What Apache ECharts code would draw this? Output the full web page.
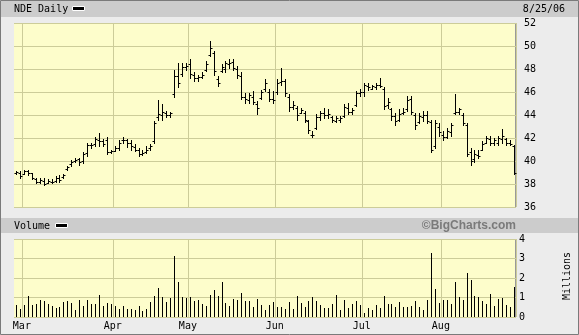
<!DOCTYPE html>
<html><head><meta charset="utf-8">
<script src="https://cdn.jsdelivr.net/npm/echarts@6/dist/echarts.min.js"></script>
<style>html,body{margin:0;padding:0;background:#ececec}#c{width:579px;height:335px}</style>
</head><body><div id="c"></div>
<script>
// ---- data ----
const dates = [
'2/27','2/28',
'3/1','3/2','3/3','3/6','3/7','3/8','3/9','3/10','3/13','3/14','3/15','3/16','3/17','3/20','3/21','3/22','3/23','3/24','3/27','3/28','3/29','3/30','3/31',
'4/3','4/4','4/5','4/6','4/7','4/10','4/11','4/12','4/13','4/17','4/18','4/19','4/20','4/21','4/24','4/25','4/26','4/27','4/28',
'5/1','5/2','5/3','5/4','5/5','5/8','5/9','5/10','5/11','5/12','5/15','5/16','5/17','5/18','5/19','5/22','5/23','5/24','5/25','5/26','5/30','5/31',
'6/1','6/2','6/5','6/6','6/7','6/8','6/9','6/12','6/13','6/14','6/15','6/16','6/19','6/20','6/21','6/22','6/23','6/26','6/27','6/28','6/29','6/30',
'7/3','7/5','7/6','7/7','7/10','7/11','7/12','7/13','7/14','7/17','7/18','7/19','7/20','7/21','7/24','7/25','7/26','7/27','7/28','7/31',
'8/1','8/2','8/3','8/4','8/7','8/8','8/9','8/10','8/11','8/14','8/15','8/16','8/17','8/18','8/21','8/22','8/23','8/24','8/25'
];
const opens = [38.95,39.0,38.9,39.1,38.95,38.4,38.2,38.3,38.1,38.2,38.3,38.5,38.6,39.3,39.7,40.0,40.2,40.0,40.7,41.4,41.5,41.8,41.7,41.8,40.8,
40.9,41.1,41.8,41.8,41.6,41.2,41.0,40.6,40.8,41.1,41.7,43.8,44.0,44.2,44.0,45.8,47.4,47.6,48.2,
48.4,47.5,47.2,47.3,47.9,49.2,49.4,47.1,47.8,48.0,48.4,48.6,48.0,47.4,45.6,45.3,45.6,45.0,45.5,46.3,46.0,45.4,
46.0,46.9,47.0,45.6,44.7,44.6,44.2,44.2,43.5,42.3,42.9,43.8,44.2,44.0,43.8,43.5,43.6,43.9,44.6,44.3,44.9,45.9,
46.0,46.5,46.3,46.4,46.6,46.3,44.9,44.5,43.9,43.6,44.2,44.5,45.4,44.0,43.4,43.8,44.0,43.4,41.3,43.0,
42.3,42.1,42.5,44.2,44.3,44.0,43.1,40.8,40.2,40.5,41.0,41.6,41.9,41.6,41.6,41.9,41.9,41.6,41.3];
const highs = [39.15,39.1,39.25,39.25,39.0,38.5,38.55,38.55,38.4,38.45,38.7,38.8,38.9,39.6,40.05,40.25,40.3,40.8,41.6,41.6,42.05,42.45,41.95,42.05,41.0,
41.3,41.8,42.05,41.95,41.85,41.45,41.15,40.95,41.3,41.45,43.5,45.3,44.95,44.35,44.3,47.9,48.55,48.55,48.55,
48.85,47.7,47.5,47.7,48.7,50.45,49.6,47.4,48.4,48.7,48.85,48.85,48.25,47.7,45.95,45.95,46.1,45.2,46.2,47.1,46.25,46.1,
47.1,48.05,47.1,45.8,45.2,44.8,44.65,44.35,43.6,42.6,44.05,44.35,44.65,44.5,43.9,43.9,43.9,45.0,45.05,44.65,46.1,46.25,
46.8,46.8,46.65,46.8,47.25,46.4,45.5,44.65,44.2,44.5,44.65,45.65,45.65,44.2,44.2,44.35,44.35,43.6,43.6,43.3,
42.6,42.85,43.3,45.8,44.65,44.2,43.3,41.1,40.95,40.95,41.7,42.15,42.15,42.0,42.15,42.75,42.0,41.85,41.4];
const lows = [38.85,38.5,38.85,38.8,38.4,38.1,38.05,37.9,38.05,38.05,38.2,38.2,38.55,39.25,39.6,39.9,39.65,39.85,40.45,41.15,41.3,41.3,41.3,40.65,40.7,
40.85,41.0,41.6,41.2,41.0,40.85,40.45,40.5,40.7,41.0,41.6,43.6,43.55,43.85,43.85,45.6,46.4,47.4,47.95,
47.25,46.95,47.0,47.2,47.8,49.1,47.5,46.5,47.7,47.7,48.1,47.95,47.25,45.35,45.05,45.05,44.95,44.05,45.35,46.1,45.2,45.05,
45.8,46.65,45.65,44.35,44.5,43.6,44.2,43.35,42.45,42.1,42.75,43.6,43.75,43.75,43.35,43.35,43.4,43.8,44.05,44.05,44.8,45.65,
45.65,46.2,46.25,46.25,46.4,44.5,44.65,43.6,43.15,43.45,44.05,44.35,44.05,42.75,43.3,43.45,43.3,40.8,41.1,42.15,
41.85,42.0,42.15,44.05,44.05,43.15,40.4,39.65,39.95,40.25,40.95,41.55,41.4,41.4,41.4,41.55,41.4,41.4,38.9];
const closes = [39.05,38.7,39.15,39.0,38.5,38.2,38.35,38.0,38.25,38.2,38.55,38.35,38.8,39.5,39.95,40.1,39.9,40.65,41.4,41.35,41.9,41.7,41.5,40.8,40.9,
41.1,41.6,41.85,41.6,41.3,41.0,40.6,40.7,41.0,41.3,43.3,44.1,44.3,44.0,44.2,47.4,46.8,48.2,48.3,
47.6,47.2,47.3,47.5,48.4,49.8,47.8,46.8,48.2,48.5,48.5,48.1,47.5,45.6,45.4,45.7,45.1,44.6,46.0,46.8,45.4,45.3,
46.8,47.0,45.9,44.7,44.9,44.0,44.4,43.6,42.7,42.3,43.8,44.2,44.0,44.1,43.6,43.7,43.7,44.7,44.3,44.4,45.9,46.0,
46.6,46.4,46.5,46.6,46.5,44.8,45.1,43.9,43.5,44.1,44.3,45.3,44.3,43.1,43.9,44.0,43.5,41.0,43.3,42.5,
42.1,42.6,43.1,44.3,44.5,43.3,40.6,40.0,40.6,40.4,41.5,42.0,41.6,41.8,42.0,42.2,41.6,41.5,39.0];
const volumes = [0.61,0.40,0.61,1.08,0.61,0.66,0.87,0.83,0.66,0.56,0.47,0.50,0.77,0.82,0.71,0.37,0.87,0.56,0.87,0.66,0.66,1.13,0.56,0.71,0.66,
0.56,0.40,0.56,0.40,0.40,0.37,0.56,0.30,0.40,0.77,1.08,1.50,1.03,0.77,0.97,3.11,1.81,1.03,0.97,
1.03,0.82,0.87,0.66,0.56,1.13,1.39,1.08,1.81,0.71,0.56,0.92,0.87,1.23,0.82,0.82,0.50,0.92,0.61,0.37,0.61,0.77,
0.50,0.50,0.40,0.77,0.40,1.07,0.71,0.50,0.81,1.02,0.81,0.60,0.45,0.45,0.66,1.12,0.34,0.86,0.45,0.66,0.81,0.60,
0.19,0.45,0.34,0.60,0.45,1.07,0.66,0.66,0.50,0.76,0.50,0.50,0.55,0.81,0.50,0.34,0.86,3.29,1.43,0.71,
0.86,0.86,0.66,1.79,1.02,0.86,2.26,1.90,1.07,1.02,0.81,0.66,1.17,0.55,0.91,0.97,0.60,0.50,1.53];
const monthNames = ['Jan','Feb','Mar','Apr','May','Jun','Jul','Aug','Sep','Oct','Nov','Dec'];
const priceMin = 36, priceMax = 52, priceStep = 2;
const volMin = 0, volMax = 4, volStep = 1;
const titleText = 'NDE Daily';
const dateText = '8/25/06';

// ---- chart ----
const GRIDC = '#cccc99';
const BG = '#fdfdcb';
const FONT = '"DejaVu Sans Mono", monospace';
const monthOf = d => +d.split('/')[0];
const isMonthStart = i => i > 0 && monthOf(dates[i]) !== monthOf(dates[i-1]);

const ohlcData = dates.map((d, i) => [i, opens[i], highs[i], lows[i], closes[i]]);
const volData = dates.map((d, i) => [i, volumes[i]]);

function renderOHLC(params, api) {
  const i = api.value(0);
  const pO = api.coord([i, api.value(1)]);
  const pH = api.coord([i, api.value(2)]);
  const pL = api.coord([i, api.value(3)]);
  const pC = api.coord([i, api.value(4)]);
  const x = Math.round(pH[0]) + 0.5;
  const st = {stroke: '#000', lineWidth: 1};
  const yo = Math.round(pO[1]) + 0.5, yc = Math.round(pC[1]) + 0.5;
  return {type: 'group', children: [
    {type: 'line', shape: {x1: x, y1: Math.round(pH[1]), x2: x, y2: Math.round(pL[1]) + 1}, style: st},
    {type: 'line', shape: {x1: x - 2, y1: yo, x2: x, y2: yo}, style: st},
    {type: 'line', shape: {x1: x, y1: yc, x2: x + 2, y2: yc}, style: st}
  ]};
}
function renderVol(params, api) {
  const i = api.value(0);
  const p0 = api.coord([i, 0]);
  const p1 = api.coord([i, api.value(1)]);
  const x = Math.round(p0[0]) + 0.5;
  return {type: 'line', shape: {x1: x, y1: Math.round(p0[1]), x2: x, y2: Math.round(p1[1])},
    style: {stroke: '#000', lineWidth: 1}};
}

const chart = echarts.init(document.getElementById('c'));
const xBase = {
  type: 'category', data: dates, boundaryGap: true,
  axisLine: {show: false}, axisTick: {show: false},
  splitLine: {show: true, interval: (i) => isMonthStart(i), lineStyle: {color: GRIDC, width: 1}}
};
chart.setOption({
  animation: false,
  backgroundColor: '#ececec',
  grid: [
    {left: 14, right: 63, top: 23, height: 184, show: true, backgroundColor: BG, borderWidth: 0},
    {left: 14, right: 63, top: 239, height: 78, show: true, backgroundColor: BG, borderWidth: 0}
  ],
  xAxis: [
    Object.assign({}, xBase, {gridIndex: 0, axisLabel: {show: false}}),
    Object.assign({}, xBase, {gridIndex: 1, axisLabel: {
      show: true, interval: (i) => isMonthStart(i), margin: 4, color: '#000',
      fontFamily: FONT, fontSize: 10, padding: [0, 4, 0, 0],
      formatter: v => monthNames[monthOf(v) - 1]
    }})
  ],
  yAxis: [
    {type: 'value', gridIndex: 0, position: 'right', min: priceMin, max: priceMax, interval: priceStep,
     axisLine: {show: false}, axisTick: {show: false},
     axisLabel: {margin: 8, color: '#000', fontFamily: FONT, fontSize: 10},
     splitLine: {lineStyle: {color: GRIDC, width: 1}}},
    {type: 'value', gridIndex: 1, position: 'right', min: volMin, max: volMax, interval: volStep,
     axisLine: {show: false}, axisTick: {show: false},
     axisLabel: {margin: 3, color: '#000', fontFamily: FONT, fontSize: 10},
     splitLine: {lineStyle: {color: GRIDC, width: 1}}}
  ],
  series: [
    {type: 'custom', xAxisIndex: 0, yAxisIndex: 0, renderItem: renderOHLC, data: ohlcData,
     encode: {x: 0, y: [1, 2, 3, 4]}, clip: false},
    {type: 'custom', xAxisIndex: 1, yAxisIndex: 1, renderItem: renderVol, data: volData,
     encode: {x: 0, y: 1}}
  ],
  graphic: [
    {type: 'rect', z: -1, shape: {x: 1, y: 1, width: 577, height: 16}, style: {fill: '#cccccc'}},
    {type: 'rect', z: -1, shape: {x: 1, y: 218, width: 577, height: 15}, style: {fill: '#cccccc'}},
    {type: 'text', x: 14, y: 9, style: {text: titleText, fill: '#000', font: '10px ' + FONT, textVerticalAlign: 'middle'}},
    {type: 'rect', shape: {x: 72.5, y: 6.5, width: 12, height: 4}, style: {fill: '#000', stroke: '#fff', lineWidth: 1}},
    {type: 'text', x: 565, y: 9, style: {text: dateText, fill: '#000', font: '10px ' + FONT, textAlign: 'right', textVerticalAlign: 'middle'}},
    {type: 'text', x: 14, y: 226, style: {text: 'Volume', fill: '#000', font: '10px ' + FONT, textVerticalAlign: 'middle'}},
    {type: 'rect', shape: {x: 55.5, y: 223.5, width: 12, height: 4}, style: {fill: '#000', stroke: '#fff', lineWidth: 1}},
    {type: 'text', x: 516, y: 226, style: {text: '\u00a9BigCharts.com', fill: '#7a7a7a', font: 'bold 12px "Liberation Sans", Arial, sans-serif', textAlign: 'right', textVerticalAlign: 'middle'}},
    {type: 'text', x: 567, y: 276, rotation: Math.PI / 2, style: {text: 'Millions', fill: '#000', font: '10px ' + FONT, textAlign: 'center', textVerticalAlign: 'middle'}},
    {type: 'polyline', shape: {points: [[515.5, 23], [515.5, 207.5], [14, 207.5]]}, style: {stroke: '#999', fill: null, lineWidth: 1}},
    {type: 'polyline', shape: {points: [[515.5, 239], [515.5, 317.5], [14, 317.5]]}, style: {stroke: '#999', fill: null, lineWidth: 1}},
    {type: 'rect', shape: {x: 0.5, y: 0.5, width: 578, height: 334}, style: {fill: null, stroke: '#7a7a7a', lineWidth: 1}}
  ]
});
</script></body></html>
